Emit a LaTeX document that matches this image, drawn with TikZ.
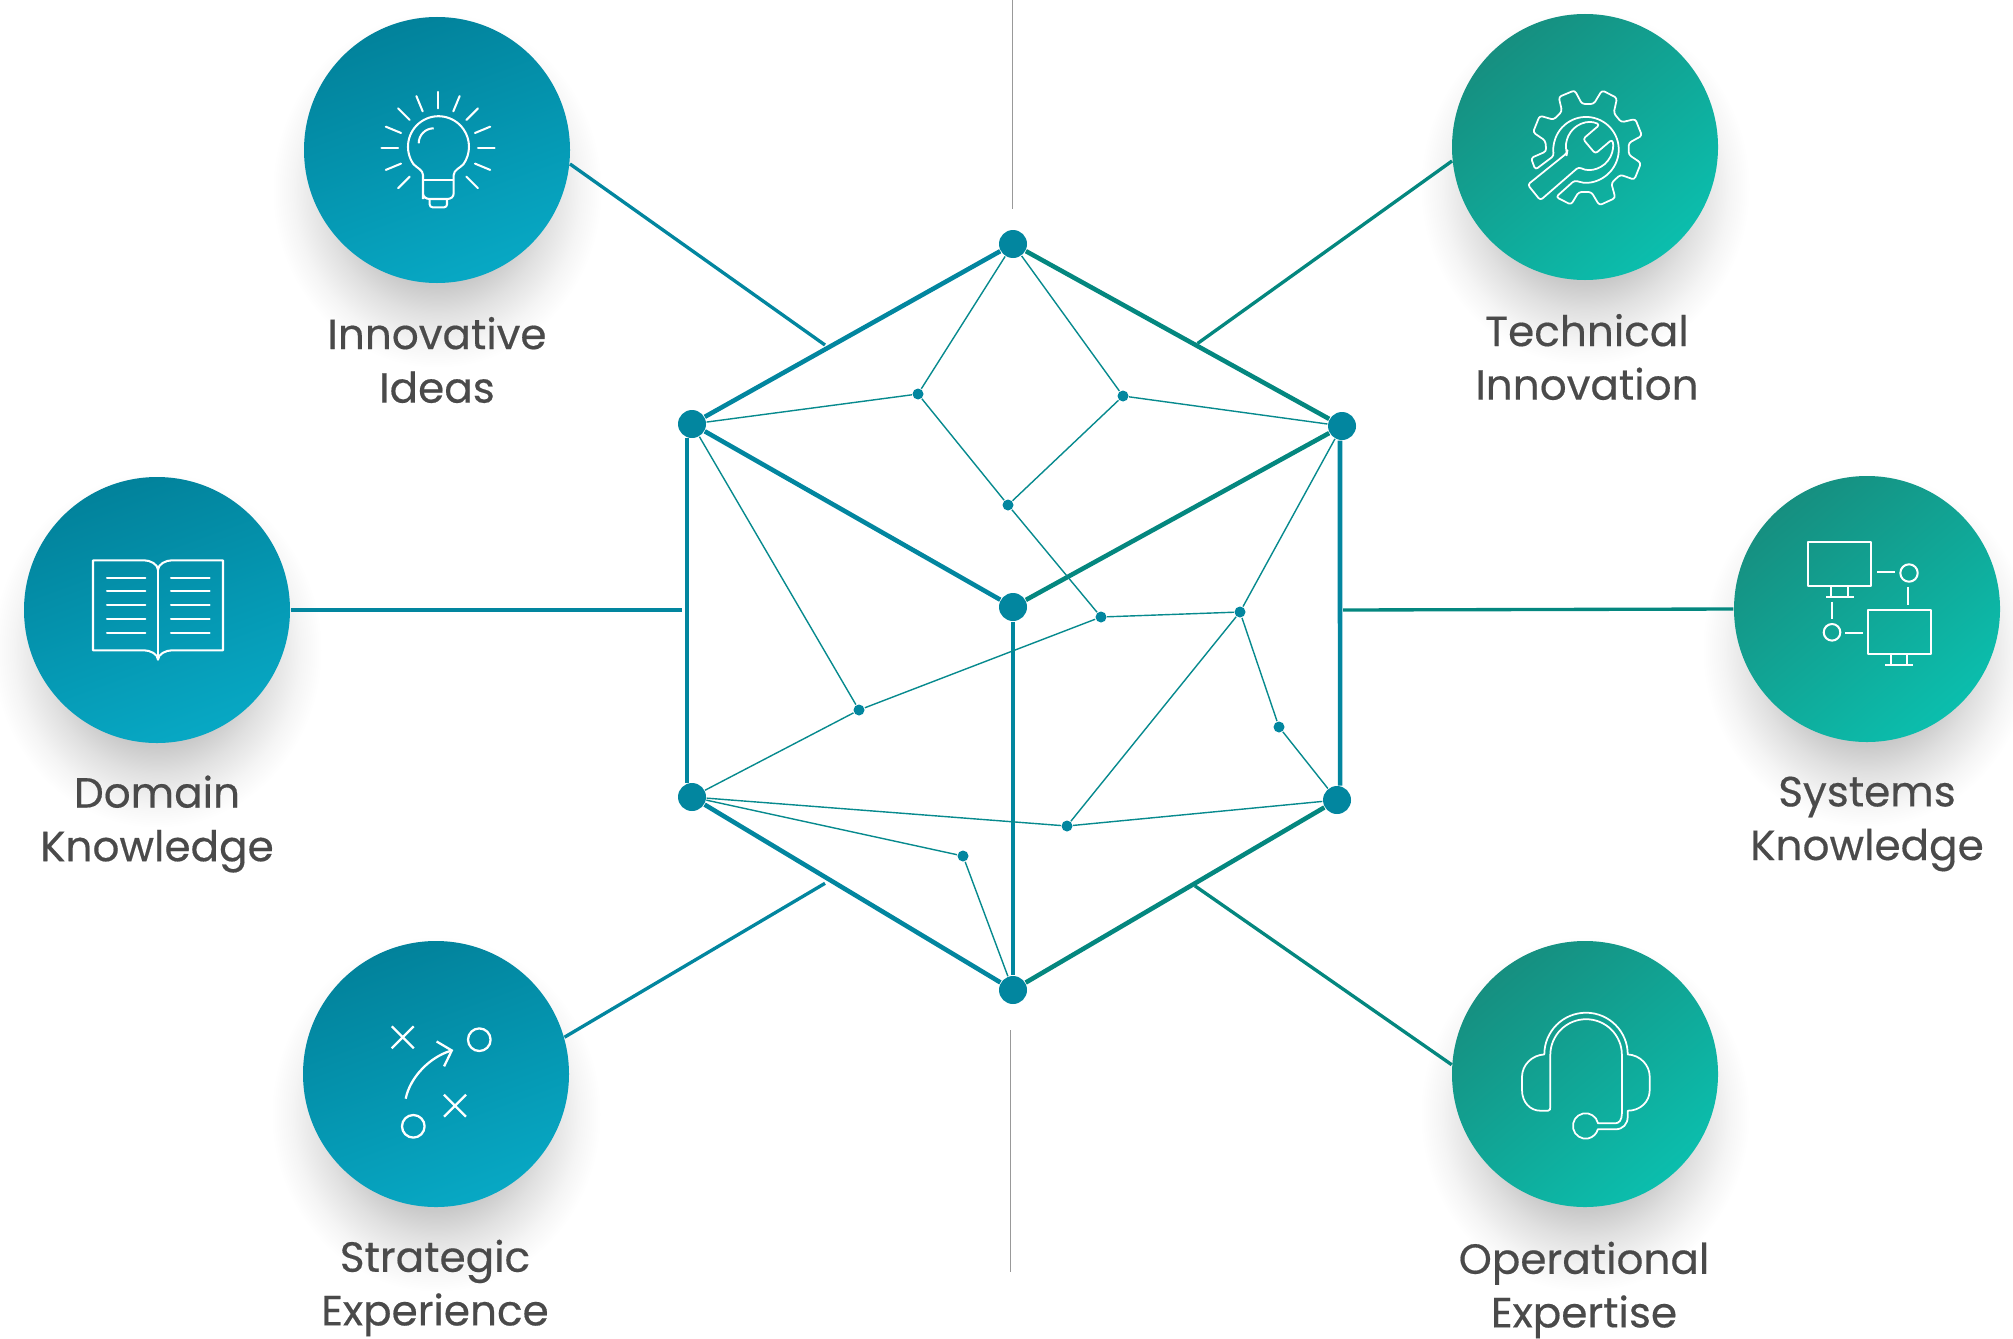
\documentclass[tikz,border=0pt]{standalone}
\usepackage{fontspec}
\setmainfont{Poppins}[RawFeature={embolden=0.4}]
\usetikzlibrary{arrows.meta}

\definecolor{hexblue}{HTML}{02869F}
\definecolor{hexgreen}{HTML}{04877F}
\definecolor{thinline}{HTML}{078A8E}
\definecolor{labelgray}{HTML}{4A4A4A}
\definecolor{bluetop}{HTML}{02829B}
\definecolor{bluelow}{HTML}{07A8C4}
\definecolor{greentop}{HTML}{168F80}
\definecolor{greenlow}{HTML}{0BBEAD}

\pgfdeclareradialshading{softshadow}{\pgfpointorigin}{
  color(0bp)=(black!24); color(13.5bp)=(black!21); color(17.4bp)=(black!12);
  color(21.8bp)=(black!4); color(25bp)=(white); color(50bp)=(white)}

\tikzset{
  bigdot/.style={circle, fill=hexblue, inner sep=0pt, minimum size=0.28cm},
  smalldot/.style={circle, fill=hexblue, inner sep=0pt, minimum size=0.11cm},
  bluedisc/.style={circle, inner sep=0pt, minimum size=2.66cm, top color=bluetop, bottom color=bluelow, shading angle=20},
  greendisc/.style={circle, inner sep=0pt, minimum size=2.66cm, top color=greentop, bottom color=greenlow, shading angle=40},
  hexedge/.style={line width=1.3pt},
  thinedge/.style={thinline, line width=0.4pt},
  feeder/.style={line width=0.95pt},
  guide/.style={black!40, line width=0.55pt},
  icon/.style={white, line width=0.58pt, line join=round},
  caption/.style={labelgray, align=center, font=\fontsize{12}{15.25}\selectfont}
}

\begin{document}
\begin{tikzpicture}
\useasboundingbox (0,0) rectangle (20.13,13.38);

% soft shadows below the discs
\foreach \x/\y in {4.37/11.88, 15.85/11.91, 1.57/7.28, 18.67/7.29, 4.36/2.64, 15.85/2.64}
\shade[shading=softshadow, xshift=\x cm, yshift=\y cm] (0,-0.4) ellipse (1.65 and 1.78);

% hexagon
\node[bigdot] (top) at (10.13,10.94) {};
\node[bigdot] (upleft) at (6.92,9.14) {};
\node[bigdot] (upright) at (13.42,9.12) {};
\node[bigdot] (center) at (10.13,7.31) {};
\node[bigdot] (lowleft) at (6.92,5.41) {};
\node[bigdot] (lowright) at (13.37,5.38) {};
\node[bigdot] (bottom) at (10.13,3.48) {};

\draw[hexedge, hexblue] (top) -- (upleft);
\draw[hexedge, hexblue] (upleft) -- (center);
\draw[hexedge, hexblue] (lowleft) -- (bottom);
\draw[hexedge, hexblue] (upleft.250) -- (lowleft.110);
\draw[hexedge, hexblue] (center) -- (bottom);
\draw[hexedge, hexgreen] (top) -- (upright);
\draw[hexedge, hexgreen] (upright) -- (center);
\draw[hexedge, hexgreen] (lowright) -- (bottom);
\draw[hexedge, hexblue] (upright.262) -- (lowright.78);

% inner net
\node[smalldot] (n1) at (9.18,9.44) {};
\node[smalldot] (n2) at (11.23,9.42) {};
\node[smalldot] (n3) at (10.08,8.33) {};
\node[smalldot] (n4) at (11.01,7.21) {};
\node[smalldot] (n5) at (12.40,7.26) {};
\node[smalldot] (n6) at (8.59,6.28) {};
\node[smalldot] (n7) at (12.79,6.11) {};
\node[smalldot] (n8) at (10.67,5.12) {};
\node[smalldot] (n9) at (9.63,4.82) {};

\foreach \a/\b in {top/n1, top/n2, upleft/n1, upright/n2, n1/n3, n2/n3, n3/n4, n4/n5, n4/n6,
  upleft/n6, lowleft/n6, upright/n5, n5/n8, n5/n7, n7/lowright, lowleft/n8, lowright/n8, lowleft/n9, n9/bottom}
\draw[thinedge] (\a) -- (\b);

% discs
\node[bluedisc] (ideas) at (4.37,11.88) {};
\node[greendisc] (technical) at (15.85,11.91) {};
\node[bluedisc] (domain) at (1.57,7.28) {};
\node[greendisc] (systems) at (18.67,7.29) {};
\node[bluedisc] (strategic) at (4.36,2.64) {};
\node[greendisc] (operational) at (15.85,2.64) {};

% feeders
\coordinate (jideas) at (8.25,9.93);
\coordinate (jtechnical) at (11.975,9.945);
\coordinate (jdomain) at (6.82,7.28);
\coordinate (jsystems) at (13.43,7.28);
\coordinate (jstrategic) at (8.25,4.547);
\coordinate (joperational) at (11.948,4.522);
\coordinate (guidetop) at (10.125,13.38);
\coordinate (guidetopend) at (10.125,11.29);
\coordinate (guidelow) at (10.105,3.08);
\coordinate (guidelowend) at (10.105,0.66);

\draw[feeder, hexblue] (ideas.-6.5) -- (jideas);
\draw[feeder, hexgreen] (technical.186.3) -- (jtechnical);
\draw[feeder, hexblue] (domain.east) -- (jdomain);
\draw[feeder, hexgreen] (systems.west) -- (jsystems);
\draw[feeder, hexblue] (strategic.16.7) -- (jstrategic);
\draw[feeder, hexgreen] (operational.176.6) -- (joperational);
\draw[guide] (guidetop) -- (guidetopend);
\draw[guide] (guidelow) -- (guidelowend);

% bulb
\begin{scope}[shift={(ideas)}, icon]
\draw (-0.14,-0.49) -- (-0.14,-0.25) .. controls (-0.14,-0.2) and (-0.2,-0.18) .. (-0.235,-0.142)
  arc[start angle=215, end angle=-35, radius=0.305] .. controls (0.23,-0.18) and (0.167,-0.2) .. (0.167,-0.25) -- (0.167,-0.43)
  .. controls (0.167,-0.47) and (0.14,-0.49) .. (0.10,-0.49) -- (-0.07,-0.49) .. controls (-0.11,-0.49) and (-0.14,-0.47) .. (-0.14,-0.43);
\draw (-0.14,-0.30) -- (0.167,-0.30);
\draw[rounded corners=0.8pt] (-0.073,-0.49) -- (-0.073,-0.573) -- (0.10,-0.573) -- (0.10,-0.49);
\draw (-0.183,0.067) arc[start angle=180, end angle=90, radius=0.15];
\foreach \a in {-45,-22.5,...,225}
\draw[line cap=round] (0.01,0.017) ++(\a:0.40) -- ++(\a:0.165);
\end{scope}

% book
\begin{scope}[shift={(domain)}, icon]
\draw (0.01,0.40) .. controls (0.01,0.46) and (-0.07,0.497) .. (-0.13,0.497) -- (-0.64,0.497) -- (-0.64,-0.403)
  -- (-0.13,-0.403) .. controls (-0.07,-0.403) and (0.01,-0.44) .. (0.01,-0.497)
  .. controls (0.01,-0.44) and (0.09,-0.403) .. (0.15,-0.403) -- (0.66,-0.403) -- (0.66,0.497) -- (0.15,0.497)
  .. controls (0.09,0.497) and (0.01,0.46) .. (0.01,0.40) -- cycle;
\draw (0.01,0.40) -- (0.01,-0.497);
\foreach \y in {0.323,0.187,0.047,-0.09,-0.227} {
\draw[line cap=round] (-0.50,\y) -- (-0.117,\y);
\draw[line cap=round] (0.14,\y) -- (0.527,\y);
}
\end{scope}

% play chart
\begin{scope}[shift={(strategic)}, icon, line width=0.65pt]
\draw (-0.333,0.367) ++(-0.11,-0.11) -- ++(0.22,0.22) ++(-0.22,0) -- ++(0.22,-0.22);
\draw (0.19,-0.317) ++(-0.11,-0.11) -- ++(0.22,0.22) ++(-0.22,0) -- ++(0.22,-0.22);
\draw (0.433,0.343) circle (0.113);
\draw (-0.227,-0.523) circle (0.113);
\draw[-{Straight Barb[length=1.2mm,width=2.6mm]}] (-0.303,-0.247) .. controls (-0.26,-0.03) and (-0.06,0.17) .. (0.173,0.24);
\end{scope}

% gear and wrench
\begin{scope}[shift={(technical)}, icon, line width=0.5pt]
\draw[rounded corners=0.8pt] (-0.497,-0.227) -- (-0.54,-0.11) -- (-0.387,-0.043) -- (-0.397,0.063) -- (-0.52,0.147)
  -- (-0.453,0.313) -- (-0.313,0.273) -- (-0.23,0.357) -- (-0.263,0.50) -- (-0.103,0.567) -- (-0.03,0.43) -- (0.087,0.43)
  -- (0.17,0.567) -- (0.32,0.49) -- (0.287,0.34) -- (0.363,0.247) -- (0.503,0.28) -- (0.57,0.113) -- (0.437,0.04)
  -- (0.437,-0.077) -- (0.56,-0.16) -- (0.493,-0.327) -- (0.353,-0.277) -- (0.263,-0.36) -- (0.303,-0.51) -- (0.143,-0.583)
  -- (0.063,-0.45) -- (-0.063,-0.45) -- (-0.14,-0.577) -- (-0.29,-0.50) -- (-0.103,-0.333)
  arc[start angle=249.7, end angle=550.7, radius=0.327] -- cycle;
\draw[rounded corners=0.8pt] (-0.18,-0.06) -- (-0.573,-0.377) -- (-0.447,-0.533) -- (-0.063,-0.20)
  arc[start angle=242.7, end angle=376.4, radius=0.235] -- (0.103,-0.067) -- (-0.02,0.08) -- (0.147,0.223)
  arc[start angle=64.5, end angle=196.6, radius=0.235] -- cycle;
\end{scope}

% two monitors
\begin{scope}[shift={(systems)}, icon]
\draw (-0.59,0.23) rectangle (0.043,0.673);
\draw (-0.357,0.23) -- (-0.357,0.123);
\draw (-0.19,0.23) -- (-0.19,0.123);
\draw (-0.407,0.123) -- (-0.133,0.123);
\draw (0.01,-0.45) rectangle (0.637,-0.013);
\draw (0.24,-0.45) -- (0.24,-0.563);
\draw (0.40,-0.45) -- (0.40,-0.563);
\draw (0.183,-0.563) -- (0.46,-0.563);
\draw (0.42,0.36) circle (0.087);
\draw (-0.35,-0.233) circle (0.083);
\draw (0.10,0.37) -- (0.283,0.37);
\draw (0.41,0.223) -- (0.41,0.04);
\draw (-0.35,0.073) -- (-0.35,-0.103);
\draw (-0.217,-0.243) -- (-0.04,-0.243);
\end{scope}

% headset
\begin{scope}[shift={(operational)}, icon, line width=0.5pt]
\draw (-0.407,0.196) .. controls (-0.53,0.19) and (-0.63,0.09) .. (-0.63,-0.027) -- (-0.63,-0.16)
  .. controls (-0.63,-0.28) and (-0.55,-0.367) .. (-0.447,-0.367) -- (-0.37,-0.367) .. controls (-0.35,-0.367) and (-0.347,-0.35) .. (-0.347,-0.327)
  -- (-0.347,0.19) arc[start angle=180, end angle=0, radius=0.358] -- (0.369,-0.393)
  .. controls (0.369,-0.46) and (0.34,-0.493) .. (0.303,-0.493) -- (0.13,-0.493)
  arc[start angle=12, end angle=345, radius=0.127] -- (0.303,-0.553)
  .. controls (0.38,-0.553) and (0.427,-0.5) .. (0.427,-0.427) -- (0.427,-0.367)
  .. controls (0.55,-0.367) and (0.647,-0.28) .. (0.647,-0.16) -- (0.647,-0.027)
  .. controls (0.647,0.09) and (0.55,0.19) .. (0.427,0.196) arc[start angle=0, end angle=180, radius=0.417] -- cycle;
\end{scope}

% captions
\node[caption] (ideastext) at (4.37,9.78) {Innovative\\Ideas};
\node[caption] (technicaltext) at (15.87,9.81) {Technical\\Innovation};
\node[caption] (domaintext) at (1.57,5.14) {Domain\\Knowledge};
\node[caption] (systemstext) at (18.67,5.14) {Systems\\Knowledge};
\node[caption] (strategictext) at (4.35,0.50) {Strategic\\Experience};
\node[caption] (operationaltext) at (15.84,0.48) {Operational\\Expertise};
\end{tikzpicture}
\end{document}
